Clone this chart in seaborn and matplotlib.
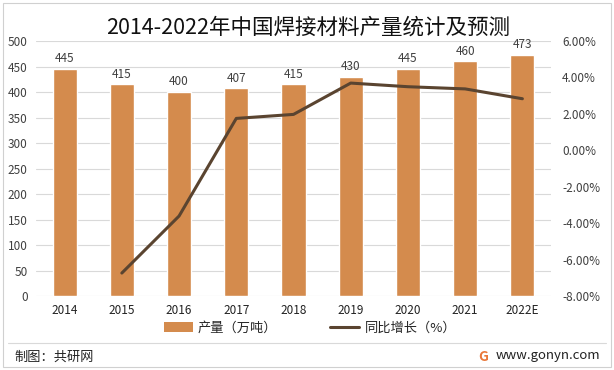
import matplotlib
matplotlib.use("Agg")
import matplotlib.pyplot as plt
import seaborn as sns
import pandas as pd
from matplotlib.lines import Line2D
from matplotlib.patches import Patch, Rectangle
from matplotlib.ticker import FuncFormatter, MultipleLocator

years = ["2014", "2015", "2016", "2017", "2018", "2019", "2020", "2021", "2022E"]
output = [445, 415, 400, 407, 415, 430, 445, 460, 473]
growth = [None, -6.74, -3.61, 1.75, 1.97, 3.69, 3.49, 3.37, 2.83]

sns.set_theme(style="white")
plt.rcParams['font.family'] = ['Noto Sans CJK SC', 'DejaVu Sans']

BAR = "#D48B4D"
LINE = "#5A4430"

fig = plt.figure(figsize=(6.14, 3.70), dpi=100)
ax = fig.add_axes([36/614, 1-296/370, (551-36)/614, (296-41)/370])

df = pd.DataFrame({"year": years, "output": output, "growth": growth})
sns.barplot(data=df, x="year", y="output", color=BAR, width=0.42, ax=ax, saturation=1)
ax.set_ylim(0, 500)
ax.set_xlim(-0.5, 8.5)
ax.yaxis.set_major_locator(MultipleLocator(50))
ax.grid(axis="y", color="#D9D9D9", linewidth=0.8)
ax.set_axisbelow(True)
for s in ax.spines.values():
    s.set_visible(False)
ax.set_xlabel("")
ax.set_ylabel("")
ax.tick_params(axis="x", labelsize=8.5, colors="#222222", pad=6, length=0)
ax.tick_params(axis="y", labelsize=8.5, colors="#404040", pad=6, length=0)
for i, v in enumerate(output):
    ax.text(i, v + 7, str(v), ha="center", va="bottom", fontsize=8.5, color="#404040")

ax2 = ax.twinx()
gdf = df.dropna()
sns.lineplot(x=gdf.index.to_numpy(), y=gdf["growth"].astype(float).to_numpy(), ax=ax2,
             color=LINE, linewidth=2.2)
ax2.set_ylim(-8, 6)
ax2.yaxis.set_major_locator(MultipleLocator(2))
ax2.yaxis.set_major_formatter(FuncFormatter(lambda v, p: f"{v:.2f}%"))
ax2.tick_params(axis="y", labelsize=8.5, colors="#404040", pad=8, length=0)
ax2.grid(False)
for s in ax2.spines.values():
    s.set_visible(False)
ax2.set_xlim(-0.5, 8.5)

fig.text(308/614, 1-28/370, "2014-2022年中国焊接材料产量统计及预测", ha="center", va="center",
         fontsize=15.5, color="#111111")

handles = [Patch(facecolor=BAR, edgecolor="none"),
           Line2D([0], [0], color=LINE, linewidth=2.2)]
fig.legend(handles, ["产量（万吨）", "同比增长（%）"], loc="center",
           bbox_to_anchor=(310/614, 1-328/370), ncol=2, frameon=False,
           fontsize=9.5, handlelength=2.2, columnspacing=4, handletextpad=0.4)

fig.add_artist(Line2D([8/614, 606/614], [1-343/370, 1-343/370], color="#D9D9D9", linewidth=0.8,
                      transform=fig.transFigure))
fig.add_artist(Rectangle((3/614, 3/370), 608/614, 364/370, fill=False, edgecolor="#D0D0D0",
                         linewidth=0.8, transform=fig.transFigure))
fig.text(14/614, 1-357/370, "制图：共研网", ha="left", va="center", fontsize=9.5, color="#222222")
fig.text(600/614, 1-356/370, "www.gonyn.com", ha="right", va="center", fontsize=9.5, color="#222222")
fig.text(483/614, 1-357/370, "G", ha="center", va="center", fontsize=10, color="#E9783A",
         fontweight="bold")

fig.savefig("out.png", dpi=100)
